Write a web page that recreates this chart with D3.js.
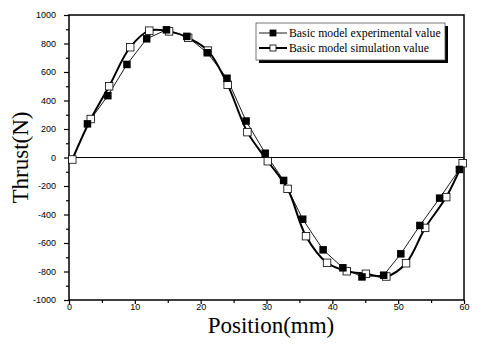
<!DOCTYPE html>
<html>
<head>
<meta charset="utf-8">
<script src="https://cdn.jsdelivr.net/npm/d3@7"></script>
<style>
  body { margin: 0; background: #fff; }
  svg { display: block; }
</style>
</head>
<body>
<div id="chart"></div>
<script>
//chart size
var w = 477;
var h = 347;

//plot area edges (not called "top" since window.top already exists)
var pLeft = 69, pRight = 464, pTop = 15, pBottom = 300;

var expPos = [2.8, 5.9, 8.8, 11.8, 14.8, 17.9, 21.0, 24.0, 26.9, 29.8, 32.6, 35.5, 38.6, 41.6, 44.5, 47.8, 50.4, 53.3, 56.3, 59.3];
var expThrust = [236, 434, 653, 833, 896, 850, 735, 556, 256, 30, -161, -433, -648, -774, -838, -826, -676, -477, -285, -84];

//simulation value (open squares)
var simPos = [0.5, 3.3, 6.1, 9.3, 12.2, 15.2, 18.1, 21.1, 24.1, 27.1, 30.2, 33.2, 36.0, 39.2, 42.2, 45.1, 48.2, 51.2, 54.1, 57.3, 59.8];
var simThrust = [-14, 270, 500, 774, 890, 885, 840, 750, 510, 178, -26, -220, -552, -739, -798, -816, -835, -742, -494, -278, -40];

//tick values
var xTicks = [0, 10, 20, 30, 40, 50, 60];
var xMinor = [5, 15, 25, 35, 45, 55];
var yTicks = [-1000, -800, -600, -400, -200, 0, 200, 400, 600, 800, 1000];
var yMinor = [-900, -700, -500, -300, -100, 100, 300, 500, 700, 900];

var legendNames = ["Basic model experimental value", "Basic model simulation value"];

var expData = expPos.map((p, i) => ({x: p, y: expThrust[i]}));
var simData = simPos.map((p, i) => ({x: p, y: simThrust[i]}));

var xscale = d3.scaleLinear().domain([0, 60]).range([pLeft, pRight]);
var yscale = d3.scaleLinear().domain([-1000, 1000]).range([pBottom, pTop]);

var svg = d3.select("#chart")
            .append("svg")
            .attr("width", w)
            .attr("height", h)
            .style("background", "#fff");

//minor ticks first (no labels)
svg.append("g")
    .attr("transform", "translate(" + pLeft + ",0)")
    .call(d3.axisLeft(yscale).tickValues(yMinor).tickSize(3).tickFormat(""))
    .call(g => g.select(".domain").remove());

svg.append("g")
    .attr("transform", "translate(0," + pBottom + ")")
    .call(d3.axisBottom(xscale).tickValues(xMinor).tickSize(3).tickFormat(""))
    .call(g => g.select(".domain").remove());

//major ticks with labels (plain hyphen for minus, no thousands comma)
svg.append("g")
    .attr("transform", "translate(" + pLeft + ",0)")
    .call(d3.axisLeft(yscale).tickValues(yTicks).tickSize(5).tickPadding(8).tickFormat(d => String(d)))
    .call(g => g.select(".domain").remove());

svg.append("g")
    .attr("transform", "translate(0," + pBottom + ")")
    .call(d3.axisBottom(xscale).tickValues(xTicks).tickSize(4).tickPadding(0).tickFormat(d => String(d)))
    .call(g => g.select(".domain").remove());

svg.selectAll(".tick line").attr("stroke", "#000").attr("stroke-width", 1.2);
svg.selectAll(".tick text")
    .attr("fill", "#000")
    .style("font-family", "Arial, 'Liberation Sans', sans-serif")
    .style("font-size", "9px");

//plot frame
svg.append("rect")
    .attr("x", pLeft)
    .attr("y", pTop)
    .attr("width", pRight - pLeft)
    .attr("height", pBottom - pTop)
    .attr("fill", "none")
    .attr("stroke", "#000")
    .attr("stroke-width", 1.5);

//zero line
svg.append("line")
    .attr("x1", pLeft)
    .attr("x2", pRight)
    .attr("y1", yscale(0))
    .attr("y2", yscale(0))
    .attr("stroke", "#000")
    .attr("stroke-width", 1.2);

//simulation line (thick, smooth)
var simLine = d3.line()
    .x(d => xscale(d.x))
    .y(d => yscale(d.y))
    .curve(d3.curveCatmullRom);

svg.append("path")
    .datum(simData)
    .attr("d", simLine)
    .attr("fill", "none")
    .attr("stroke", "#000")
    .attr("stroke-width", 2);

//experimental line (thin)
var expLine = d3.line()
    .x(d => xscale(d.x))
    .y(d => yscale(d.y));

svg.append("path")
    .datum(expData)
    .attr("d", expLine)
    .attr("fill", "none")
    .attr("stroke", "#000")
    .attr("stroke-width", 0.9);

//markers
var s = 7.5;
svg.selectAll(".sim")
    .data(simData)
    .enter()
    .append("rect")
    .attr("class", "sim")
    .attr("x", d => xscale(d.x) - s / 2)
    .attr("y", d => yscale(d.y) - s / 2)
    .attr("width", s)
    .attr("height", s)
    .attr("fill", "#fff")
    .attr("stroke", "#000")
    .attr("stroke-width", 0.8);

svg.selectAll(".exp")
    .data(expData)
    .enter()
    .append("rect")
    .attr("class", "exp")
    .attr("x", d => xscale(d.x) - s / 2)
    .attr("y", d => yscale(d.y) - s / 2)
    .attr("width", s)
    .attr("height", s)
    .attr("fill", "#000");

//legend box with shadow
var lx = 256, ly = 23, lw = 189, lh = 37;
svg.append("rect")
    .attr("x", lx + 3)
    .attr("y", ly + 3)
    .attr("width", lw)
    .attr("height", lh)
    .attr("fill", "#000");
svg.append("rect")
    .attr("x", lx)
    .attr("y", ly)
    .attr("width", lw)
    .attr("height", lh)
    .attr("fill", "#fff")
    .attr("stroke", "#555")
    .attr("stroke-width", 0.8);

var rows = [33, 48];
legendNames.forEach(function(name, i)
{
    var y = rows[i];
    svg.append("line")
        .attr("x1", lx + 3)
        .attr("x2", lx + 31)
        .attr("y1", y)
        .attr("y2", y)
        .attr("stroke", "#000")
        .attr("stroke-width", i == 0 ? 0.9 : 2);
    svg.append("rect")
        .attr("x", lx + 17 - 3)
        .attr("y", y - 3)
        .attr("width", 6)
        .attr("height", 6)
        .attr("fill", i == 0 ? "#000" : "#fff")
        .attr("stroke", "#000")
        .attr("stroke-width", 0.8);
    svg.append("text")
        .attr("x", lx + 33)
        .attr("y", y + 4)
        .attr("fill", "#000")
        .style("font-family", "'Liberation Serif', 'Times New Roman', serif")
        .style("font-size", "11.8px")
        .text(name);
});

//axis titles
svg.append("text")
    .attr("x", 271)
    .attr("y", 333)
    .attr("text-anchor", "middle")
    .attr("fill", "#000")
    .style("font-family", "'Liberation Serif', 'Times New Roman', serif")
    .style("font-size", "23px")
    .text("Position(mm)");

svg.append("text")
    .attr("transform", "translate(28," + yscale(0) + ") rotate(-90)")
    .attr("text-anchor", "middle")
    .attr("fill", "#000")
    .style("font-family", "'Liberation Serif', 'Times New Roman', serif")
    .style("font-size", "23px")
    .text("Thrust(N)");
</script>
</body>
</html>
